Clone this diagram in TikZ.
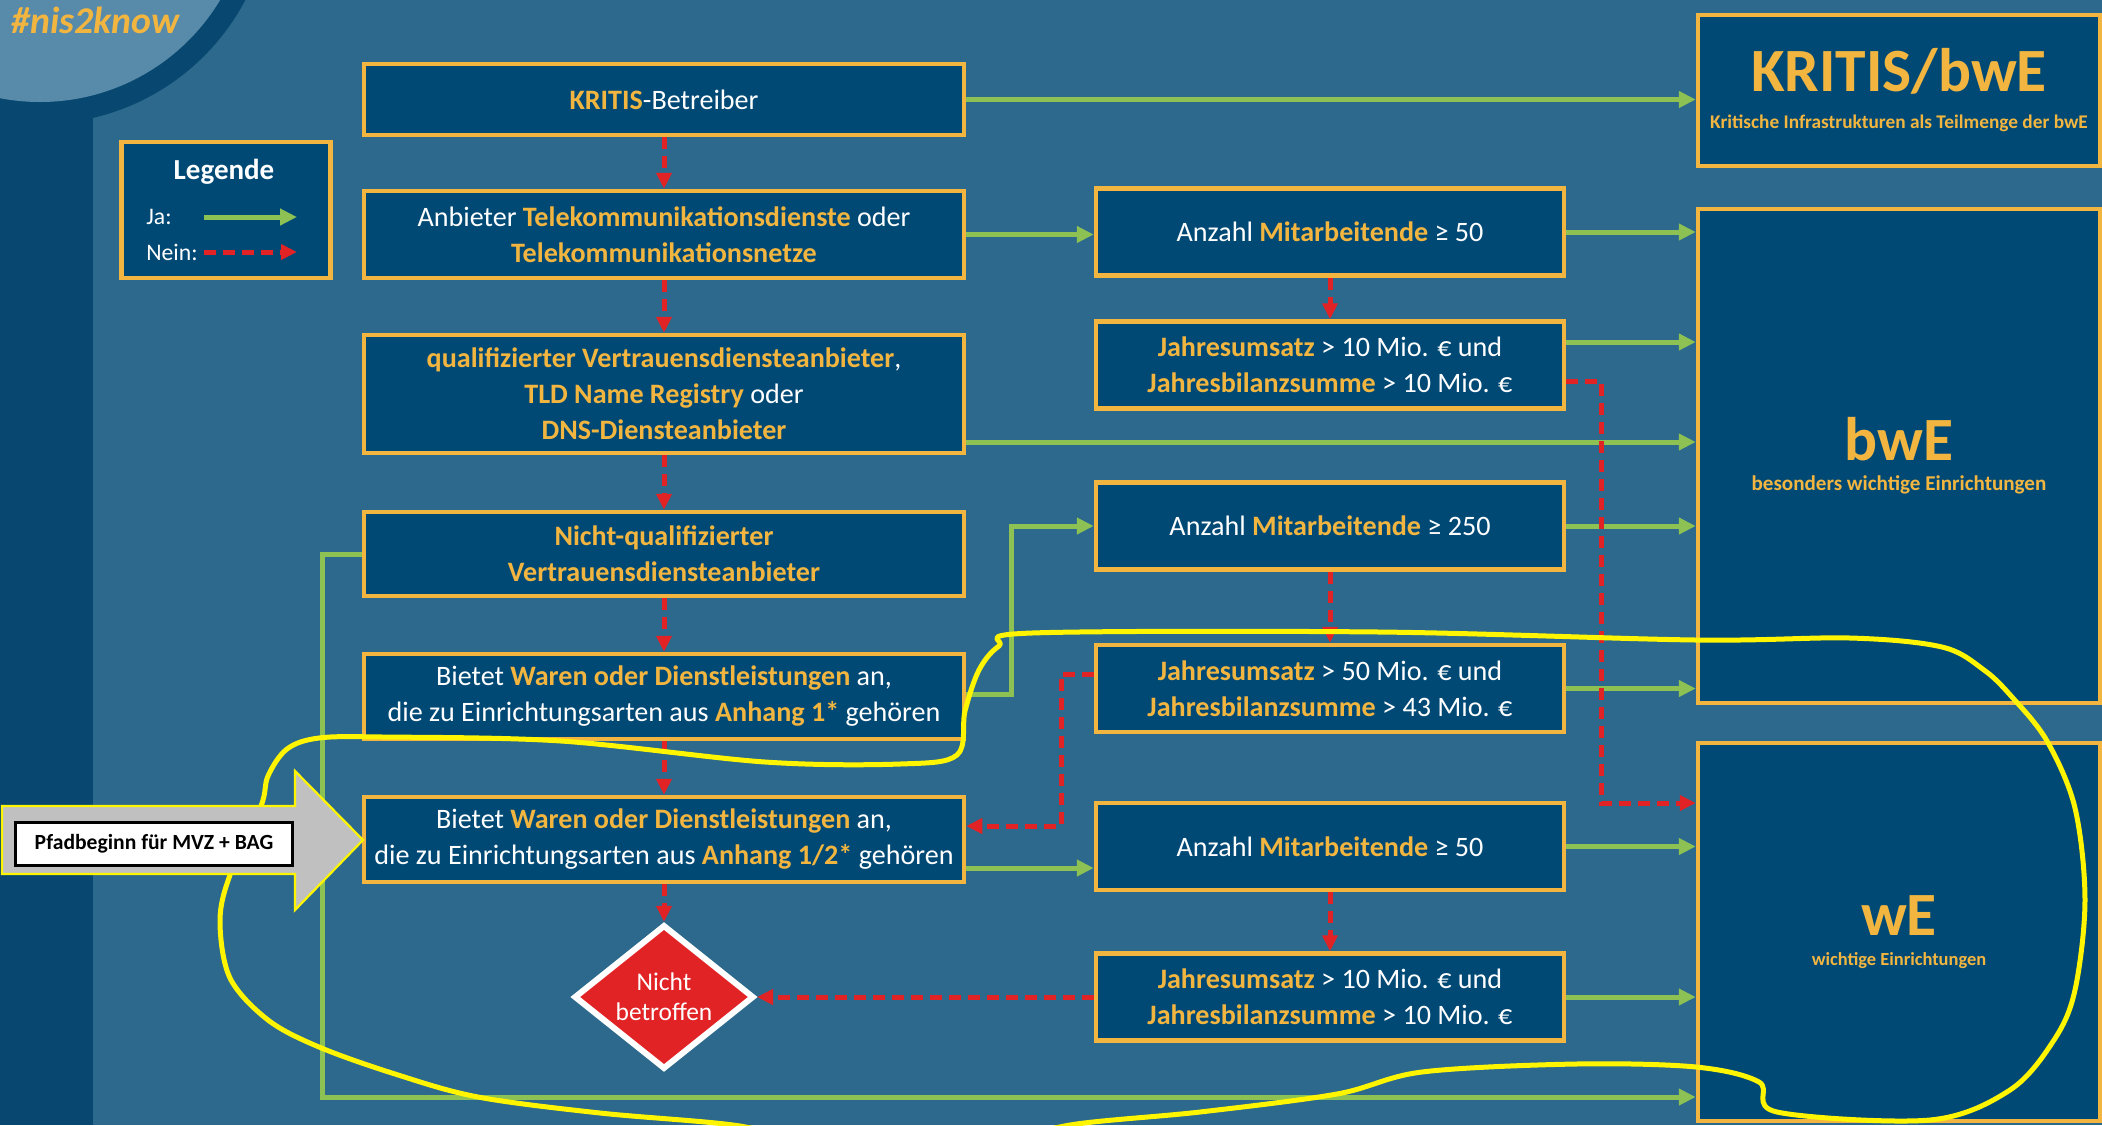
\documentclass[tikz,border=0pt]{standalone}
\usepackage{fontspec}
\setmainfont{Carlito}
\usetikzlibrary{shapes.geometric,arrows.meta}

\definecolor{hintergrund}{RGB}{44,105,140}
\definecolor{streifen}{RGB}{8,72,112}
\definecolor{kreis}{RGB}{88,138,170}
\definecolor{boxblau}{RGB}{0,73,117}
\definecolor{gold}{RGB}{242,182,64}
\definecolor{jagruen}{RGB}{141,193,83}
\definecolor{neinrot}{RGB}{226,35,38}
\definecolor{marker}{RGB}{255,245,0}
\definecolor{pfeilgrau}{RGB}{192,192,192}

\newcommand{\gelb}[1]{\textcolor{gold}{\bfseries #1}}

\begin{document}
\begin{tikzpicture}[
  x=0.2mm, y=-0.2mm,
  box/.style={rectangle, draw=gold, line width=0.9mm, fill=boxblau, text=white,
              align=center, inner sep=0pt, font=\fontsize{16}{20.5}\selectfont},
  links/.style={box, minimum width=120mm},
  mitte/.style={box, minimum width=93.6mm, minimum height=17.4mm},
  ergebnis/.style={box, minimum width=80.4mm, text=gold, font=\fontsize{11}{12}\selectfont\bfseries},
  nicht/.style={diamond, draw=white, line width=1.2mm, fill=neinrot, text=white, inner sep=0pt,
                minimum width=36mm, minimum height=26mm, align=center,
                font=\fontsize{14.5}{17}\selectfont},
  ja/.style={draw=jagruen, line width=1mm, -{Triangle[length=3.4mm,width=3.2mm]}},
  nein/.style={draw=neinrot, line width=1mm, dash pattern=on 2.4mm off 1.4mm,
               -{Triangle[length=3.2mm,width=3mm]}},
  kringel/.style={draw=marker, line width=1mm, line join=round, line cap=round},
]
\useasboundingbox (0,0) rectangle (2102,1125);
\fill[hintergrund] (0,0) rectangle (2102,1125);
\fill[streifen] (0,0) rectangle (93,1125);
\fill[streifen] (40,-108) circle[radius=232];
\fill[kreis] (40,-108) circle[radius=210];

\node[anchor=base west, inner sep=0pt, text=gold, font=\fontsize{21.5}{24}\selectfont\bfseries\itshape]
  (hashtag) at (11,33) {\#nis2know};

% Legende
\node[box, minimum width=41.8mm, minimum height=27.2mm] (legende) at (226,210) {};
\node[text=white, inner sep=0pt, font=\fontsize{16.5}{18}\selectfont\bfseries] (legtitel) at (224,172) {Legende};
\node[text=white, anchor=west, inner sep=0pt, font=\fontsize{13.5}{15}\selectfont] (jatext) at (146,217) {Ja:};
\node[text=white, anchor=west, inner sep=0pt, font=\fontsize{13.5}{15}\selectfont] (neintext) at (146,252) {Nein:};
\coordinate (ja0) at (204,217);
\coordinate (ja1) at (297,217);
\coordinate (nein0) at (204,252);
\coordinate (nein1) at (297,252);
\draw[ja] (ja0) -- (ja1);
\draw[nein] (nein0) -- (nein1);

% linke Spalte
\node[links, minimum height=14.2mm] (krit) at (664,99.5) {\gelb{KRITIS}-Betreiber};
\node[links, minimum height=17.4mm] (tk) at (664,234.5)
  {Anbieter \gelb{Telekommunikationsdienste} oder\\\gelb{Telekommunikationsnetze}};
\node[links, minimum height=23.6mm] (qvda) at (664,394)
  {\gelb{qualifizierter Vertrauensdiensteanbieter},\\\gelb{TLD Name Registry} oder\\\gelb{DNS-Diensteanbieter}};
\node[links, minimum height=16.8mm] (nqvda) at (664,554)
  {\gelb{Nicht-qualifizierter}\\\gelb{Vertrauensdiensteanbieter}};
\node[links, minimum height=17mm] (anh1) at (664,696.5)
  {Bietet \gelb{Waren oder Dienstleistungen} an,\\die zu Einrichtungsarten aus \gelb{Anhang 1*} gehören};
\node[links, minimum height=17mm] (anh12) at (664,839.5)
  {Bietet \gelb{Waren oder Dienstleistungen} an,\\die zu Einrichtungsarten aus \gelb{Anhang 1/2*} gehören};
\node[nicht] (nb) at (664,997) {Nicht\\betroffen};

% mittlere Spalte
\node[mitte] (ma50) at (1330,232) {Anzahl \gelb{Mitarbeitende} ≥ 50};
\node[mitte] (ums10) at (1330,365)
  {\gelb{Jahresumsatz} > 10 Mio. € und\\\gelb{Jahresbilanzsumme} > 10 Mio. €};
\node[mitte] (ma250) at (1330,526) {Anzahl \gelb{Mitarbeitende} ≥ 250};
\node[mitte] (ums50) at (1330,688.5)
  {\gelb{Jahresumsatz} > 50 Mio. € und\\\gelb{Jahresbilanzsumme} > 43 Mio. €};
\node[mitte] (ma50b) at (1330,846.5) {Anzahl \gelb{Mitarbeitende} ≥ 50};
\node[mitte] (ums10b) at (1330,997)
  {\gelb{Jahresumsatz} > 10 Mio. € und\\\gelb{Jahresbilanzsumme} > 10 Mio. €};

% Ergebnisse
\node[ergebnis, minimum height=30.2mm] (kritbwe) at (1899,90.5)
  {{\fontsize{35}{38}\selectfont KRITIS/bwE}\\[9pt]Kritische Infrastrukturen als Teilmenge der bwE};
\node[ergebnis, minimum height=98.8mm] (bwe) at (1899,456)
  {{\fontsize{35}{38}\selectfont bwE}\\[5pt]{\fontsize{12}{14}\selectfont besonders wichtige Einrichtungen}};
\node[ergebnis, minimum height=75.6mm] (we) at (1899,932)
  {{\fontsize{35}{38}\selectfont wE}\\[5pt]{\fontsize{10.5}{12}\selectfont wichtige Einrichtungen}};

% Ja
\draw[ja] (krit.east) -- (krit.east -| kritbwe.west);
\draw[ja] (tk.east) -- (tk.east -| ma50.west);
\draw[ja] (ma50.east) -- (ma50.east -| bwe.west);
\draw[ja] (ums10.east |- 0,342) -- (bwe.west |- 0,342);
\draw[ja] (qvda.east |- 0,442) -- (bwe.west |- 0,442);
\draw[ja] (ma250.east) -- (ma250.east -| bwe.west);
\coordinate (knick1) at (1011,526);
\draw[ja] (anh1.east |- 0,694) -| (knick1) -- (ma250.west);
\draw[ja] (ums50.east) -- (ums50.east -| bwe.west);
\draw[ja] (anh12.east |- 0,868) -- (ma50b.west |- 0,868);
\draw[ja] (ma50b.east) -- (ma50b.east -| we.west);
\draw[ja] (ums10b.east) -- (ums10b.east -| we.west);
\coordinate (knick2) at (322,1097);
\draw[ja] (nqvda.west) -| (knick2) -- (knick2 -| we.west);

% Nein
\draw[nein] (krit.south) -- (tk.north);
\draw[nein] (tk.south) -- (qvda.north);
\draw[nein] (qvda.south) -- (nqvda.north);
\draw[nein] (nqvda.south) -- (anh1.north);
\draw[nein] (anh1.south) -- (anh12.north);
\draw[nein] (anh12.south) -- (nb.north);
\draw[nein] (ma50.south) -- (ums10.north);
\draw[nein] (ma250.south) -- (ums50.north);
\draw[nein] (ma50b.south) -- (ums10b.north);
\coordinate (knick3) at (1601,381);
\coordinate (knick4) at (1601,803);
\draw[nein] (ums10.east |- knick3) -- (knick3) -- (knick4) -- (knick4 -| we.west);
\coordinate (knick5) at (1061,674);
\coordinate (knick6) at (1061,826);
\draw[nein] (ums50.west |- knick5) -- (knick5) -- (knick6) -- (knick6 -| anh12.east);
\draw[nein] (ums10b.west) -- (ums10b.west -| nb.east);

% Markierung von Hand
\begin{scope}
  \clip (0,0) rectangle (2102,1125);
  \draw[kringel] plot[smooth, tension=0.55] coordinates {
    (800,1145) (740,1126) (600,1113) (478,1097) (395,1074) (319,1047) (268,1020)
    (230,978) (220,921) (230,875) (261,806) (268,776) (287,749) (319,738) (383,737)
    (561,741) (765,762) (900,764) (957,755) (965,711) (979,670) (999,646) (1032,633)
    (1379,632) (1696,640) (1850,638) (1942,647) (1984,670) (2012,697) (2047,741)
    (2075,808) (2085,900) (2075,990) (2054,1040) (2010,1090) (1930,1120) (1777,1112)
    (1759,1082) (1696,1067) (1576,1064) (1422,1072) (1337,1094) (1200,1112)
    (1070,1125) (1000,1145)};
\end{scope}

% Pfadbeginn
\filldraw[fill=pfeilgrau, draw=marker, line width=0.45mm]
  (2,806) -- (295,806) -- (295,771) -- (363,840) -- (295,910) -- (295,874) -- (2,874) -- cycle;
\node[draw=black, line width=0.45mm, fill=white, minimum width=55.4mm, minimum height=8.6mm,
      inner sep=0pt, font=\fontsize{12.3}{14}\selectfont\bfseries] (pfad) at (154,844)
  {Pfadbeginn für MVZ + BAG};

\end{tikzpicture}
\end{document}
